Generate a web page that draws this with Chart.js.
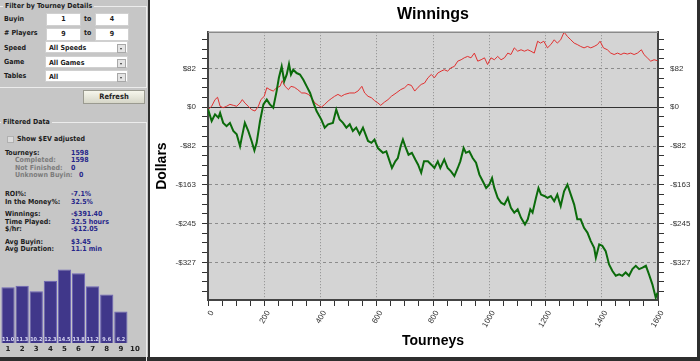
<!DOCTYPE html>
<html lang="en">
<head>
<meta charset="UTF-8">
<title>Winnings</title>
<script src="https://cdn.jsdelivr.net/npm/chart.js"></script>
<style>
  body { margin: 0; width: 700px; height: 361px; background: #2e2e2e; position: relative; overflow: hidden;
         font-family: "DejaVu Sans Condensed", "DejaVu Sans", sans-serif; font-stretch: semi-condensed; font-weight: bold; font-size: 7px; color: #1c1c1c; }
  #side { position: absolute; left: 0; top: 0; width: 148px; height: 357px; background: #c6c6c6; }
  #main { position: absolute; left: 150px; top: 0; width: 547px; height: 357px; background: #fff; }
  .abs { position: absolute; line-height: 8px; white-space: nowrap; }
  .box { position: absolute; border: 1px solid #ececec; }
  .legend { position: absolute; background: #c6c6c6; padding: 0 2px; line-height: 8px; }
  .inp { position: absolute; height: 11px; background: #fff; border: 1px solid #d0d0d0; text-align: center; line-height: 11px; }
  .sel { position: absolute; left: 45px; height: 12px; background: #fff; border: 1px solid #d0d0d0; line-height: 12px; padding-left: 3px; box-sizing: border-box; width: 83px; }
  .sel i { position: absolute; right: 1px; top: 2px; width: 7px; height: 7px; background: #e4e4e4; border: 1px solid #a8a8a8; }
  .sel i:after { content: ""; position: absolute; left: 2px; top: 3px; border-left: 1.5px solid transparent; border-right: 1.5px solid transparent; border-top: 2px solid #333; }
  .btn { position: absolute; left: 83px; top: 90px; width: 62px; height: 14px; box-sizing: border-box; border: 1px solid #9a9a90;
         background: linear-gradient(#f6f6ec, #d6d6c8); text-align: center; line-height: 12px; font-size: 7.5px; }
  .val { color: #26268a; }
  .sub { color: #7c7c7c; }
  #histo { position: absolute; left: 0; top: 256px; }
</style>
</head>
<body>
<div id="side">
  <div class="box" style="left:-2px; top:6px; width:147px; height:80px;"></div>
  <div class="legend" style="left:3px; top:2px;">Filter by Tourney Details</div>
  <div class="abs" style="left:4px; top:15px;">Buyin</div>
  <div class="inp" style="left:46px; top:13px; width:33px;">1</div>
  <div class="abs" style="left:84px; top:15px;">to</div>
  <div class="inp" style="left:95px; top:13px; width:32px;">4</div>
  <div class="abs" style="left:4px; top:29px;">#&nbsp;Players</div>
  <div class="inp" style="left:46px; top:28px; width:33px;">9</div>
  <div class="abs" style="left:84px; top:29px;">to</div>
  <div class="inp" style="left:95px; top:28px; width:32px;">9</div>
  <div class="abs" style="left:4px; top:44px;">Speed</div>
  <div class="sel" style="top:41px;">All Speeds<i></i></div>
  <div class="abs" style="left:4px; top:58px;">Game</div>
  <div class="sel" style="top:56px;">All Games<i></i></div>
  <div class="abs" style="left:4px; top:72px;">Tables</div>
  <div class="sel" style="top:70px;">All<i></i></div>
  <div class="btn">Refresh</div>

  <div class="box" style="left:-2px; top:122px; width:147px; height:240px;"></div>
  <div class="legend" style="left:1px; top:118px;">Filtered Data</div>
  <div class="abs" style="left:7px; top:136px; width:5px; height:5px; background:#dcdcdc; border:1px solid #b0b0b0;"></div>
  <div class="abs" style="left:17px; top:135px;">Show $EV adjusted</div>

  <div class="abs" style="left:5px; top:149px;">Tourneys:</div><div class="abs val" style="left:71px; top:149px;">1598</div>
  <div class="abs sub" style="left:15px; top:156px;">Completed:</div><div class="abs val" style="left:71px; top:156px;">1598</div>
  <div class="abs sub" style="left:15px; top:164px;">Not Finished:</div><div class="abs val" style="left:71px; top:164px;">0</div>
  <div class="abs sub" style="left:15px; top:171px;">Unknown Buyin:</div><div class="abs val" style="left:79px; top:171px;">0</div>
  <div class="abs" style="left:5px; top:190px;">ROI%:</div><div class="abs val" style="left:71px; top:190px;">-7.1%</div>
  <div class="abs" style="left:5px; top:198px;">In the Money%:</div><div class="abs val" style="left:71px; top:198px;">32.5%</div>
  <div class="abs" style="left:5px; top:210px;">Winnings:</div><div class="abs val" style="left:71px; top:210px;">-$391.40</div>
  <div class="abs" style="left:5px; top:218px;">Time Played:</div><div class="abs val" style="left:71px; top:218px;">32.5 hours</div>
  <div class="abs" style="left:5px; top:225px;">$/hr:</div><div class="abs val" style="left:71px; top:225px;">-$12.05</div>
  <div class="abs" style="left:5px; top:238px;">Avg Buyin:</div><div class="abs val" style="left:71px; top:238px;">$3.45</div>
  <div class="abs" style="left:5px; top:245px;">Avg Duration:</div><div class="abs val" style="left:71px; top:245px;">11.1 min</div>

  <canvas id="histo" width="147" height="101"></canvas>
</div>
<div id="main"><canvas id="winnings" width="547" height="357"></canvas></div>

<script>
// cumulative winnings
const greenTourneys = [0,13,25,37,43,54,66,78,90,102,114,120,131,143,155,165,173,185,197,209,220,232,244,252,262,271,280,288,295,303,315,327,339,351,363,375,386,403,415,427,444,456,468,480,492,504,515,527,539,551,569,581,592,604,622,634,646,654,666,675,685,693,701,713,725,737,747,758,768,782,794,805,817,826,840,852,864,876,888,897,909,917,929,941,953,965,977,989,1000,1010,1018,1030,1042,1054,1066,1077,1089,1101,1113,1127,1137,1146,1154,1166,1175,1184,1196,1207,1219,1231,1242,1254,1266,1278,1290,1302,1313,1325,1337,1349,1361,1373,1379,1391,1402,1414,1426,1438,1450,1462,1473,1485,1497,1509,1521,1533,1545,1557,1568,1580,1592,1598];
const greenDollars = [-4,-29,-15,-22,-12,-33,-40,-33,-50,-57,-82,-64,-33,-50,-71,-91,-75,-29,6,16,6,-1,34,62,86,55,69,91,69,79,72,69,58,44,30,9,-8,-26,-43,-36,-33,-5,-26,-33,-43,-36,-50,-43,-57,-43,-71,-75,-68,-86,-96,-93,-114,-128,-114,-107,-82,-68,-82,-100,-96,-110,-121,-138,-114,-114,-121,-128,-114,-128,-110,-128,-135,-145,-128,-114,-86,-96,-93,-107,-117,-142,-156,-170,-163,-149,-170,-191,-201,-205,-191,-212,-222,-215,-233,-247,-236,-215,-222,-191,-170,-184,-187,-191,-187,-198,-184,-208,-177,-163,-184,-205,-236,-236,-254,-264,-282,-296,-317,-289,-292,-303,-331,-345,-355,-352,-355,-348,-355,-341,-334,-341,-338,-334,-352,-373,-401,-391];

// second (red) line
const redTourneys = [0,13,25,34,43,54,66,78,90,102,114,122,131,143,155,167,179,188,200,209,220,232,244,256,264,274,286,295,307,319,333,345,357,368,380,392,403,415,427,438,450,462,474,486,504,521,533,547,557,569,581,592,604,614,628,640,652,669,685,699,711,723,735,747,758,770,782,794,805,817,829,840,852,864,876,888,900,911,923,935,947,959,971,983,994,1006,1018,1030,1042,1054,1066,1077,1089,1101,1113,1125,1137,1148,1160,1172,1182,1194,1207,1219,1231,1242,1254,1266,1278,1290,1302,1313,1325,1337,1349,1361,1373,1385,1394,1406,1420,1432,1444,1456,1468,1479,1491,1503,1515,1527,1541,1550,1562,1574,1586,1598];
const redDollars = [-5,2,16,21,2,-1,2,6,4,2,9,16,9,2,-5,-8,2,16,23,41,37,34,41,44,56,44,37,44,42,37,30,30,27,20,9,4,0,6,13,18,23,27,23,27,30,30,34,44,30,23,20,14,9,4,11,16,23,30,37,41,48,46,34,42,48,51,62,69,62,72,76,79,76,83,86,97,100,104,107,104,114,97,100,104,90,104,100,107,100,104,114,111,125,118,121,118,121,118,114,139,135,139,125,132,142,135,142,158,149,142,135,132,128,125,128,125,128,132,139,125,121,114,111,114,111,114,112,114,111,114,121,111,104,97,100,98];

// axis ranges and tick spacing
const dollarMin = -406, dollarMax = 158, dollarStep = 81.67;
const tourneyMin = 0, tourneyMax = 1600, tourneyStep = 200;

// histogram in the side panel
const histoLabels = ['1','2','3','4','5','6','7','8','9','10'];
const histoValues = [11.0, 11.3, 10.2, 12.3, 14.5, 13.8, 11.2, 9.6, 6.2, null];

Chart.defaults.font.family = 'Liberation Sans';
Chart.defaults.animation = false;

function isMajor(v) { const r = v / dollarStep; return Math.abs(r - Math.round(r)) < 1e-6; }
function dollarTicks(scale) {
  const q = dollarStep / 4, out = [];
  for (let k = Math.ceil(dollarMin / q); k <= Math.floor(dollarMax / q); k++) out.push({ value: k * q });
  scale.ticks = out;
}
function dollarLabel(v) {
  if (!isMajor(v)) return '';
  const n = Math.round(Math.abs(v));
  return (v < -1e-6 ? '-$' : '$') + n;
}
function yGridColor(c) {
  if (!c.tick) return 'rgba(0,0,0,0)';
  if (Math.abs(c.tick.value) < 1e-6) return '#333';
  return isMajor(c.tick.value) ? '#8c8c8c' : 'rgba(0,0,0,0)';
}

const plotBg = {
  id: 'plotBg',
  beforeDraw(chart) {
    const a = chart.chartArea, ctx = chart.ctx;
    ctx.save();
    ctx.fillStyle = '#d4d4d4';
    ctx.fillRect(a.left, a.top, a.right - a.left, a.bottom - a.top);
    ctx.restore();
  },
  afterDraw(chart) {
    const a = chart.chartArea, ctx = chart.ctx;
    ctx.save();
    ctx.strokeStyle = '#8a8a8a';
    ctx.lineWidth = 1.5;
    ctx.beginPath(); ctx.moveTo(a.left, a.top); ctx.lineTo(a.right, a.top); ctx.stroke();
    ctx.restore();
  }
};

const tickFont = { size: 8 };
const dollarAxis = {
  type: 'linear', min: dollarMin, max: dollarMax,
  afterBuildTicks: dollarTicks,
  ticks: { callback: dollarLabel, font: tickFont, color: '#333', padding: 6, autoSkip: false },
  grid: { color: yGridColor, tickColor: '#333', tickLength: 6, lineWidth: 1 },
  border: { color: '#444', width: 2, dash: c => (c.tick && Math.abs(c.tick.value) > 1e-6) ? [3, 3] : [] }
};

new Chart(document.getElementById('winnings'), {
  type: 'line',
  data: {
    datasets: [
      { data: greenTourneys.map((t, i) => ({ x: t, y: greenDollars[i] })), borderColor: '#0b6b0b', borderWidth: 2, pointRadius: 0, tension: 0 },
      { data: redTourneys.map((t, i) => ({ x: t, y: redDollars[i] })), borderColor: '#e03030', borderWidth: 1, pointRadius: 0, tension: 0 }
    ]
  },
  options: {
    responsive: false,
    layout: { padding: 0 },
    plugins: {
      legend: { display: false },
      tooltip: { enabled: false },
      title: { display: true, text: 'Winnings', fullSize: false, color: '#000', font: { size: 16, weight: 'bold' }, padding: { top: 5, bottom: 8 } }
    },
    scales: {
      x: {
        type: 'linear', min: tourneyMin, max: tourneyMax,
        afterFit: s => { s.height = 57; },
        ticks: { stepSize: 50, autoSkip: false, minRotation: 60, maxRotation: 60, labelOffset: 4, padding: 3, font: tickFont, color: '#333',
                 callback: v => (v % tourneyStep === 0 ? String(v) : '') },
        grid: { color: c => (c.tick && c.tick.value % tourneyStep === 0 && c.tick.value > tourneyMin && c.tick.value < tourneyMax) ? '#8c8c8c' : 'rgba(0,0,0,0)',
                tickColor: '#333', tickLength: 6 },
        border: { color: '#444', width: 2, dash: [1, 2] },
        title: { display: true, text: 'Tourneys', color: '#000', font: { size: 14, weight: 'bold' }, padding: { top: 0, bottom: 7 } }
      },
      y: Object.assign({}, dollarAxis, {
        position: 'left',
        afterFit: s => { s.width = 58; },
        title: { display: true, text: 'Dollars', color: '#000', font: { size: 14, weight: 'bold' }, padding: { top: 4, bottom: 0 } }
      }),
      yRight: Object.assign({}, dollarAxis, {
        position: 'right',
        afterFit: s => { s.width = 39; },
        grid: { drawOnChartArea: false, tickColor: '#333', tickLength: 6 }
      })
    }
  },
  plugins: [plotBg]
});

const barValueLabels = {
  id: 'barValueLabels',
  afterDatasetsDraw(chart) {
    const ctx = chart.ctx;
    ctx.save();
    ctx.font = 'bold 5.5px "DejaVu Sans Condensed", "DejaVu Sans"';
    ctx.fillStyle = '#d8d8f4';
    ctx.textAlign = 'center';
    ctx.textBaseline = 'bottom';
    chart.getDatasetMeta(0).data.forEach((bar, i) => {
      if (histoValues[i] == null) return;
      ctx.fillText(histoValues[i].toFixed(1), bar.x, bar.base - 1);
    });
    ctx.restore();
  }
};

new Chart(document.getElementById('histo'), {
  type: 'bar',
  data: {
    labels: histoLabels,
    datasets: [{ data: histoValues, backgroundColor: '#40378a', borderColor: '#6c64b6', borderWidth: 1, barPercentage: 1, categoryPercentage: 0.94 }]
  },
  options: {
    responsive: false,
    layout: { padding: { left: 1, right: 5, top: 6, bottom: 0 } },
    plugins: { legend: { display: false }, tooltip: { enabled: false } },
    scales: {
      x: {
        afterFit: s => { s.height = 14; },
        grid: { display: false, drawTicks: false, tickLength: 0 }, border: { display: false },
        ticks: { color: '#222', padding: 2, maxRotation: 0, font: { family: 'DejaVu Sans', size: 7, weight: 'bold' } }
      },
      y: { display: false, min: 0, max: 16 }
    }
  },
  plugins: [barValueLabels]
});
</script>
</body>
</html>
